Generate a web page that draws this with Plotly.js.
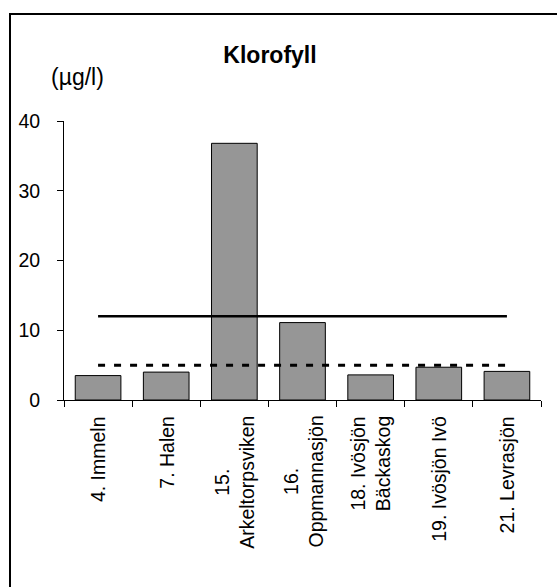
<!DOCTYPE html>
<html>
<head>
<meta charset="utf-8">
<script src="https://cdn.plot.ly/plotly-3.0.1.min.js"></script>
<style>
html,body{margin:0;padding:0;background:#fff;overflow:hidden;}
#chart{width:557px;height:587px;}
</style>
</head>
<body>
<div id="chart"></div>
<script>
var categories = ["4. Immeln", "7. Halen", "15.<br>Arkeltorpsviken", "16.<br>Oppmannasjön", "18. Ivösjön<br>Bäckaskog", "19. Ivösjön Ivö", "21. Levrasjön"];
var chlorophyll = [3.5, 4.0, 36.8, 11.1, 3.6, 4.7, 4.1];
var limitSolid = [12, 12, 12, 12, 12, 12, 12];
var limitDotted = [5, 5, 5, 5, 5, 5, 5];
var yTicks = [0, 10, 20, 30, 40];
var titleText = "Klorofyll";
var unitText = "(µg/l)";

var font = "Liberation Sans, Arial, sans-serif";

var traces = [
  {
    type: "bar",
    x: categories,
    y: chlorophyll,
    marker: {color: "#969696", line: {color: "#000", width: 1}},
    hoverinfo: "x+y"
  },
  {
    type: "scatter",
    mode: "lines",
    x: categories,
    y: limitSolid,
    line: {color: "#000", width: 2.5}
  },
  {
    type: "scatter",
    mode: "lines",
    x: categories,
    y: limitDotted,
    line: {color: "#000", width: 3, dash: "7px,9px"}
  }
];

var annotations = [
  {
    text: unitText,
    xref: "paper", yref: "paper",
    x: (77 - 64) / 477, y: (400 - 77) / 279,
    xanchor: "center", yanchor: "middle",
    showarrow: false,
    font: {family: font, size: 23, color: "#000"}
  }
];
categories.forEach(function (c) {
  annotations.push({
    text: c,
    xref: "x", yref: "paper",
    x: c, y: (400 - 415) / 279,
    xanchor: "center", yanchor: "top",
    textangle: -90,
    align: "center",
    showarrow: false,
    borderpad: 0,
    font: {family: font, size: 19.5, color: "#000"}
  });
});

var layout = {
  width: 557,
  height: 587,
  margin: {l: 64, r: 16, t: 121, b: 187},
  paper_bgcolor: "#fff",
  plot_bgcolor: "#fff",
  showlegend: false,
  bargap: 0.33,
  font: {family: font, size: 19.5, color: "#000"},
  title: {
    text: "<b>" + titleText + "</b>",
    font: {family: font, size: 23, color: "#000"},
    x: 270 / 557, xref: "container", xanchor: "center",
    y: 1 - 55 / 587, yref: "container", yanchor: "middle"
  },
  xaxis: {
    type: "category",
    tickson: "boundaries",
    ticks: "outside",
    ticklen: 6,
    tickcolor: "#000",
    showticklabels: false,
    showline: true,
    linecolor: "#000",
    linewidth: 1,
    showgrid: false,
    zeroline: false
  },
  yaxis: {
    range: [0, 40],
    tickvals: yTicks,
    ticktext: yTicks.map(String),
    ticks: "outside",
    ticklen: 6,
    tickcolor: "#000",
    ticklabelstandoff: 13,
    showline: true,
    linecolor: "#000",
    linewidth: 1,
    showgrid: false,
    zeroline: false,
    tickfont: {family: font, size: 19.5, color: "#000"}
  },
  annotations: annotations,
  shapes: [
    {
      type: "rect", xref: "paper", yref: "paper",
      x0: (10 - 64) / 477, x1: (600 - 64) / 477,
      y0: (400 - 640) / 279, y1: (400 - 14) / 279,
      line: {color: "#000", width: 2},
      fillcolor: "rgba(0,0,0,0)",
      layer: "below"
    }
  ]
};

Plotly.newPlot("chart", traces, layout, {displayModeBar: false, staticPlot: true});
</script>
</body>
</html>
